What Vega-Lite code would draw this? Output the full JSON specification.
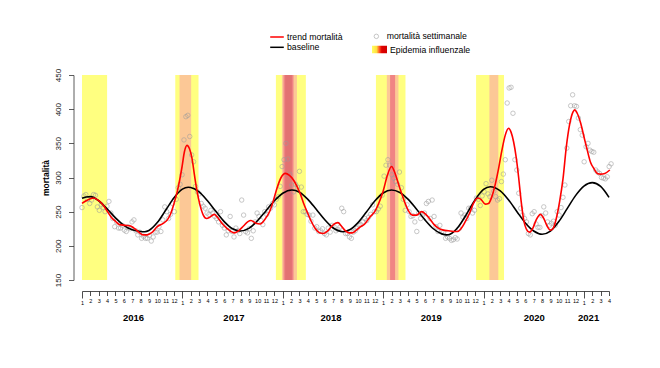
{
  "$schema": "https://vega.github.io/schema/vega-lite/v6.json",
  "width": 527,
  "height": 205,
  "autosize": "none",
  "padding": {"left": 82, "top": 75, "right": 51, "bottom": 88},
  "background": "white",
  "config": {"font": "Liberation Sans", "view": {"stroke": null}, "axis": {"grid": false}},
  "datasets": {
    "bande": [
      {"a": 0, "b": 3, "liv": "g"},
      {"a": 11.15, "b": 13.93, "liv": "g"},
      {"a": 23.18, "b": 26.76, "liv": "g"},
      {"a": 35.14, "b": 38.67, "liv": "g"},
      {"a": 47.11, "b": 50.45, "liv": "g"},
      {"a": 11.66, "b": 13.05, "liv": "a"},
      {"a": 23.9, "b": 25.69, "liv": "a"},
      {"a": 36.44, "b": 37.83, "liv": "a"},
      {"a": 48.7, "b": 49.77, "liv": "a"},
      {"a": 24.09, "b": 25.28, "liv": "r"},
      {"a": 36.83, "b": 37.43, "liv": "r"},
      {"a": 24.29, "b": 25.09, "liv": "s"}
    ],
    "obs": [
      {"m":0,"v":256},{"m":0.23,"v":273},{"m":0.46,"v":275},{"m":0.69,"v":268},{"m":0.92,"v":262},{"m":1.15,"v":267},{"m":1.38,"v":275},{"m":1.61,"v":274},{"m":1.84,"v":257},{"m":2.07,"v":252},
      {"m":2.3,"v":260},{"m":2.53,"v":256},{"m":2.76,"v":250},{"m":2.99,"v":258},{"m":3.22,"v":265},{"m":3.45,"v":248},{"m":3.68,"v":240},{"m":3.91,"v":228},{"m":4.14,"v":235},{"m":4.37,"v":226},
      {"m":4.6,"v":226},{"m":4.83,"v":230},{"m":5.06,"v":223},{"m":5.29,"v":221},{"m":5.52,"v":228},{"m":5.75,"v":225},{"m":5.98,"v":235},{"m":6.21,"v":238},{"m":6.44,"v":222},{"m":6.67,"v":216},
      {"m":6.9,"v":220},{"m":7.13,"v":211},{"m":7.36,"v":214},{"m":7.59,"v":211},{"m":7.82,"v":211},{"m":8.05,"v":215},{"m":8.28,"v":207},{"m":8.51,"v":213},{"m":8.74,"v":220},{"m":8.97,"v":220},
      {"m":9.2,"v":228},{"m":9.43,"v":221},{"m":9.66,"v":238},{"m":9.89,"v":257},{"m":10.12,"v":250},{"m":10.35,"v":240},{"m":10.58,"v":246},{"m":10.81,"v":262},{"m":11.04,"v":250},{"m":11.27,"v":268},
      {"m":11.5,"v":285},{"m":11.73,"v":290},{"m":11.96,"v":304},{"m":12.19,"v":355},{"m":12.42,"v":389},{"m":12.65,"v":391},{"m":12.88,"v":360},{"m":13.11,"v":333},{"m":13.34,"v":323},{"m":13.57,"v":287},
      {"m":13.8,"v":279},{"m":14.03,"v":276},{"m":14.26,"v":262},{"m":14.49,"v":258},{"m":14.72,"v":255},{"m":14.95,"v":248},{"m":15.18,"v":246},{"m":15.41,"v":252},{"m":15.64,"v":248},{"m":15.87,"v":243},
      {"m":16.1,"v":240},{"m":16.33,"v":235},{"m":16.56,"v":250},{"m":16.79,"v":230},{"m":17.02,"v":226},{"m":17.25,"v":216},{"m":17.48,"v":222},{"m":17.71,"v":243},{"m":17.94,"v":221},{"m":18.17,"v":213},
      {"m":18.4,"v":226},{"m":18.63,"v":222},{"m":18.86,"v":218},{"m":19.09,"v":267},{"m":19.32,"v":245},{"m":19.55,"v":221},{"m":19.78,"v":219},{"m":20.01,"v":225},{"m":20.24,"v":211},{"m":20.47,"v":222},
      {"m":20.7,"v":235},{"m":20.93,"v":248},{"m":21.16,"v":243},{"m":21.39,"v":237},{"m":21.62,"v":231},{"m":21.85,"v":250},{"m":22.08,"v":246},{"m":22.31,"v":257},{"m":22.54,"v":255},{"m":22.77,"v":262},
      {"m":23,"v":260},{"m":23.23,"v":268},{"m":23.46,"v":272},{"m":23.69,"v":287},{"m":23.92,"v":316},{"m":24.15,"v":326},{"m":24.38,"v":350},{"m":24.61,"v":327},{"m":24.84,"v":305},{"m":25.07,"v":289},
      {"m":25.3,"v":279},{"m":25.53,"v":290},{"m":25.76,"v":286},{"m":25.99,"v":309},{"m":26.22,"v":286},{"m":26.45,"v":250},{"m":26.68,"v":250},{"m":26.91,"v":246},{"m":27.14,"v":245},{"m":27.37,"v":236},
      {"m":27.6,"v":245},{"m":27.83,"v":226},{"m":28.06,"v":228},{"m":28.29,"v":221},{"m":28.52,"v":222},{"m":28.75,"v":225},{"m":28.98,"v":218},{"m":29.21,"v":216},{"m":29.44,"v":226},{"m":29.67,"v":220},
      {"m":29.9,"v":230},{"m":30.13,"v":228},{"m":30.36,"v":222},{"m":30.59,"v":224},{"m":30.82,"v":227},{"m":31.05,"v":255},{"m":31.28,"v":250},{"m":31.51,"v":218},{"m":31.74,"v":218},{"m":31.97,"v":213},
      {"m":32.2,"v":211},{"m":32.43,"v":220},{"m":32.66,"v":222},{"m":32.89,"v":226},{"m":33.12,"v":230},{"m":33.35,"v":231},{"m":33.58,"v":235},{"m":33.81,"v":240},{"m":34.04,"v":237},{"m":34.27,"v":242},
      {"m":34.5,"v":246},{"m":34.73,"v":260},{"m":34.96,"v":250},{"m":35.19,"v":250},{"m":35.42,"v":254},{"m":35.65,"v":258},{"m":35.88,"v":274},{"m":36.11,"v":302},{"m":36.34,"v":318},{"m":36.57,"v":326},
      {"m":36.8,"v":318},{"m":37.03,"v":304},{"m":37.26,"v":299},{"m":37.49,"v":294},{"m":37.72,"v":290},{"m":37.95,"v":308},{"m":38.18,"v":285},{"m":38.41,"v":268},{"m":38.64,"v":252},{"m":38.87,"v":260},
      {"m":39.1,"v":250},{"m":39.33,"v":243},{"m":39.56,"v":244},{"m":39.79,"v":235},{"m":40.02,"v":221},{"m":40.25,"v":248},{"m":40.48,"v":240},{"m":40.71,"v":245},{"m":40.94,"v":248},{"m":41.17,"v":262},
      {"m":41.4,"v":265},{"m":41.63,"v":240},{"m":41.86,"v":267},{"m":42.09,"v":243},{"m":42.32,"v":228},{"m":42.55,"v":221},{"m":42.78,"v":230},{"m":43.01,"v":221},{"m":43.24,"v":220},{"m":43.47,"v":211},
      {"m":43.7,"v":213},{"m":43.93,"v":211},{"m":44.16,"v":208},{"m":44.39,"v":209},{"m":44.62,"v":212},{"m":44.85,"v":210},{"m":45.08,"v":225},{"m":45.31,"v":248},{"m":45.54,"v":242},{"m":45.77,"v":245},
      {"m":46,"v":240},{"m":46.23,"v":255},{"m":46.46,"v":255},{"m":46.69,"v":248},{"m":46.92,"v":252},{"m":47.15,"v":270},{"m":47.38,"v":268},{"m":47.61,"v":259},{"m":47.84,"v":273},{"m":48.07,"v":279},
      {"m":48.3,"v":291},{"m":48.53,"v":276},{"m":48.76,"v":272},{"m":48.99,"v":296},{"m":49.22,"v":280},{"m":49.45,"v":272},{"m":49.68,"v":267},{"m":49.91,"v":269},{"m":50.14,"v":294},{"m":50.37,"v":305},
      {"m":50.6,"v":326},{"m":50.83,"v":409},{"m":51.06,"v":431},{"m":51.29,"v":432},{"m":51.52,"v":394},{"m":51.75,"v":326},{"m":51.98,"v":311},{"m":52.21,"v":277},{"m":52.44,"v":255},{"m":52.67,"v":245},
      {"m":52.9,"v":240},{"m":53.13,"v":235},{"m":53.36,"v":218},{"m":53.59,"v":216},{"m":53.82,"v":247},{"m":54.05,"v":250},{"m":54.28,"v":232},{"m":54.51,"v":227},{"m":54.74,"v":227},{"m":54.97,"v":244},
      {"m":55.2,"v":257},{"m":55.43,"v":248},{"m":55.66,"v":235},{"m":55.89,"v":230},{"m":56.12,"v":233},{"m":56.35,"v":236},{"m":56.58,"v":230},{"m":56.81,"v":250},{"m":57.04,"v":245},{"m":57.27,"v":256},
      {"m":57.5,"v":271},{"m":57.73,"v":289},{"m":57.96,"v":343},{"m":58.19,"v":382},{"m":58.42,"v":405},{"m":58.65,"v":421},{"m":58.88,"v":405},{"m":59.11,"v":404},{"m":59.34,"v":387},{"m":59.57,"v":370},
      {"m":59.8,"v":362},{"m":60.03,"v":323},{"m":60.26,"v":345},{"m":60.49,"v":350},{"m":60.72,"v":340},{"m":60.95,"v":338},{"m":61.18,"v":337},{"m":61.41,"v":311},{"m":61.64,"v":308},{"m":61.87,"v":306},
      {"m":62.1,"v":300},{"m":62.33,"v":299},{"m":62.56,"v":298},{"m":62.79,"v":301},{"m":63.02,"v":316},{"m":63.25,"v":320}
    ],
    "linee": [
      {"serie":"baseline","m":0,"v":269.5},{"serie":"baseline","m":0.5,"v":271.5},{"serie":"baseline","m":1,"v":272},{"serie":"baseline","m":2,"v":266},{"serie":"baseline","m":3,"v":254},{"serie":"baseline","m":4,"v":241},{"serie":"baseline","m":5,"v":230},{"serie":"baseline","m":6,"v":223.5},{"serie":"baseline","m":7,"v":221},{"serie":"baseline","m":7.5,"v":220.7},
      {"serie":"baseline","m":8,"v":222.5},{"serie":"baseline","m":9,"v":234},{"serie":"baseline","m":10,"v":252},{"serie":"baseline","m":11,"v":270.5},{"serie":"baseline","m":12,"v":283},{"serie":"baseline","m":12.7,"v":285.7},{"serie":"baseline","m":13,"v":285.3},{"serie":"baseline","m":14,"v":279},{"serie":"baseline","m":15,"v":266},{"serie":"baseline","m":16,"v":250.5},
      {"serie":"baseline","m":17,"v":235.5},{"serie":"baseline","m":18,"v":225},{"serie":"baseline","m":18.9,"v":221.7},{"serie":"baseline","m":20,"v":226},{"serie":"baseline","m":21,"v":237},{"serie":"baseline","m":22,"v":251.5},{"serie":"baseline","m":23,"v":266},{"serie":"baseline","m":24,"v":277},{"serie":"baseline","m":25.1,"v":281.7},{"serie":"baseline","m":26,"v":278.5},
      {"serie":"baseline","m":27,"v":268},{"serie":"baseline","m":28,"v":253.5},{"serie":"baseline","m":29,"v":238.5},{"serie":"baseline","m":30,"v":226.5},{"serie":"baseline","m":31.2,"v":220.7},{"serie":"baseline","m":32,"v":223.5},{"serie":"baseline","m":33,"v":234},{"serie":"baseline","m":34,"v":249.5},{"serie":"baseline","m":35,"v":265.5},{"serie":"baseline","m":36,"v":277.3},
      {"serie":"baseline","m":37,"v":281.7},{"serie":"baseline","m":38,"v":278},{"serie":"baseline","m":39,"v":268},{"serie":"baseline","m":40,"v":253.5},{"serie":"baseline","m":41,"v":238},{"serie":"baseline","m":42,"v":225},{"serie":"baseline","m":43,"v":217.5},{"serie":"baseline","m":43.6,"v":216},{"serie":"baseline","m":44,"v":217},{"serie":"baseline","m":45,"v":228},
      {"serie":"baseline","m":46,"v":247},{"serie":"baseline","m":47,"v":267.5},{"serie":"baseline","m":48,"v":282.5},{"serie":"baseline","m":48.8,"v":286.5},{"serie":"baseline","m":50,"v":280.3},{"serie":"baseline","m":51,"v":267},{"serie":"baseline","m":52,"v":250},{"serie":"baseline","m":53,"v":233.5},{"serie":"baseline","m":54,"v":221.7},{"serie":"baseline","m":55,"v":217},
      {"serie":"baseline","m":56,"v":221.6},{"serie":"baseline","m":57,"v":235.5},{"serie":"baseline","m":58,"v":254.5},{"serie":"baseline","m":59,"v":273.5},{"serie":"baseline","m":60,"v":287.4},{"serie":"baseline","m":61,"v":292.5},{"serie":"baseline","m":62,"v":287},{"serie":"baseline","m":63,"v":271},
      {"serie":"trend mortalità","m":0,"v":262},{"serie":"trend mortalità","m":0.5,"v":266},{"serie":"trend mortalità","m":1,"v":269},{"serie":"trend mortalità","m":1.4,"v":270},{"serie":"trend mortalità","m":2,"v":266},{"serie":"trend mortalità","m":2.5,"v":260},{"serie":"trend mortalità","m":3,"v":251},{"serie":"trend mortalità","m":3.5,"v":242},{"serie":"trend mortalità","m":4,"v":236},{"serie":"trend mortalità","m":4.5,"v":231},
      {"serie":"trend mortalità","m":5.2,"v":230},{"serie":"trend mortalità","m":5.8,"v":229},{"serie":"trend mortalità","m":6.2,"v":226},{"serie":"trend mortalità","m":6.8,"v":220},{"serie":"trend mortalità","m":7.3,"v":216},{"serie":"trend mortalità","m":7.8,"v":216},{"serie":"trend mortalità","m":8.3,"v":219},{"serie":"trend mortalità","m":9,"v":228},{"serie":"trend mortalità","m":9.7,"v":233},{"serie":"trend mortalità","m":10.2,"v":238},
      {"serie":"trend mortalità","m":10.6,"v":247},{"serie":"trend mortalità","m":11,"v":262},{"serie":"trend mortalità","m":11.4,"v":280},{"serie":"trend mortalità","m":11.95,"v":315},{"serie":"trend mortalità","m":12.25,"v":338},{"serie":"trend mortalità","m":12.55,"v":347},{"serie":"trend mortalità","m":12.85,"v":342},{"serie":"trend mortalità","m":13.15,"v":328},{"serie":"trend mortalità","m":13.45,"v":303},{"serie":"trend mortalità","m":13.75,"v":280},
      {"serie":"trend mortalità","m":14.1,"v":260},{"serie":"trend mortalità","m":14.5,"v":245},{"serie":"trend mortalità","m":14.9,"v":240},{"serie":"trend mortalità","m":15.3,"v":242},{"serie":"trend mortalità","m":15.8,"v":246},{"serie":"trend mortalità","m":16.3,"v":240},{"serie":"trend mortalità","m":16.8,"v":232},{"serie":"trend mortalità","m":17.3,"v":226},{"serie":"trend mortalità","m":17.8,"v":221},{"serie":"trend mortalità","m":18.2,"v":219},
      {"serie":"trend mortalità","m":18.7,"v":222},{"serie":"trend mortalità","m":19.3,"v":229},{"serie":"trend mortalità","m":19.8,"v":235},{"serie":"trend mortalità","m":20.2,"v":237},{"serie":"trend mortalità","m":20.8,"v":233},{"serie":"trend mortalità","m":21.3,"v":232},{"serie":"trend mortalità","m":21.7,"v":236},{"serie":"trend mortalità","m":22.1,"v":243},{"serie":"trend mortalità","m":22.5,"v":252},{"serie":"trend mortalità","m":22.9,"v":267},
      {"serie":"trend mortalità","m":23.3,"v":284},{"serie":"trend mortalità","m":23.8,"v":300},{"serie":"trend mortalità","m":24.3,"v":306},{"serie":"trend mortalità","m":24.8,"v":303},{"serie":"trend mortalità","m":25.3,"v":296},{"serie":"trend mortalità","m":25.7,"v":287},{"serie":"trend mortalità","m":26.1,"v":276},{"serie":"trend mortalità","m":26.5,"v":262},{"serie":"trend mortalità","m":26.9,"v":250},{"serie":"trend mortalità","m":27.4,"v":236},
      {"serie":"trend mortalità","m":27.9,"v":225},{"serie":"trend mortalità","m":28.4,"v":219},{"serie":"trend mortalità","m":28.8,"v":218},{"serie":"trend mortalità","m":29.3,"v":221},{"serie":"trend mortalità","m":29.8,"v":228},{"serie":"trend mortalità","m":30.3,"v":233},{"serie":"trend mortalità","m":30.6,"v":234},{"serie":"trend mortalità","m":31,"v":229},{"serie":"trend mortalità","m":31.4,"v":223},{"serie":"trend mortalità","m":31.9,"v":219},
      {"serie":"trend mortalità","m":32.3,"v":219},{"serie":"trend mortalità","m":32.8,"v":223},{"serie":"trend mortalità","m":33.3,"v":228},{"serie":"trend mortalità","m":33.8,"v":232},{"serie":"trend mortalità","m":34.4,"v":242},{"serie":"trend mortalità","m":35,"v":250},{"serie":"trend mortalità","m":35.5,"v":263},{"serie":"trend mortalità","m":36,"v":280},{"serie":"trend mortalità","m":36.5,"v":303},{"serie":"trend mortalità","m":37,"v":316},
      {"serie":"trend mortalità","m":37.4,"v":307},{"serie":"trend mortalità","m":37.8,"v":292},{"serie":"trend mortalità","m":38.2,"v":277},{"serie":"trend mortalità","m":38.6,"v":263},{"serie":"trend mortalità","m":39,"v":252},{"serie":"trend mortalità","m":39.5,"v":245},{"serie":"trend mortalità","m":40,"v":245},{"serie":"trend mortalità","m":40.6,"v":250},{"serie":"trend mortalità","m":41.1,"v":246},{"serie":"trend mortalità","m":41.6,"v":239},
      {"serie":"trend mortalità","m":42.1,"v":231},{"serie":"trend mortalità","m":42.6,"v":226},{"serie":"trend mortalità","m":43.2,"v":223},{"serie":"trend mortalità","m":43.8,"v":222},{"serie":"trend mortalità","m":44.4,"v":221},{"serie":"trend mortalità","m":44.9,"v":221},{"serie":"trend mortalità","m":45.3,"v":225},{"serie":"trend mortalità","m":45.8,"v":235},{"serie":"trend mortalità","m":46.3,"v":247},{"serie":"trend mortalità","m":46.8,"v":262},
      {"serie":"trend mortalità","m":47.3,"v":270},{"serie":"trend mortalità","m":47.7,"v":268},{"serie":"trend mortalità","m":48.2,"v":261},{"serie":"trend mortalità","m":48.6,"v":262},{"serie":"trend mortalità","m":49,"v":272},{"serie":"trend mortalità","m":49.4,"v":290},{"serie":"trend mortalità","m":49.8,"v":313},{"serie":"trend mortalità","m":50.2,"v":340},{"serie":"trend mortalità","m":50.6,"v":362},{"serie":"trend mortalità","m":51,"v":372},
      {"serie":"trend mortalità","m":51.3,"v":366},{"serie":"trend mortalità","m":51.6,"v":352},{"serie":"trend mortalità","m":51.9,"v":330},{"serie":"trend mortalità","m":52.2,"v":300},{"serie":"trend mortalità","m":52.5,"v":265},{"serie":"trend mortalità","m":52.8,"v":238},{"serie":"trend mortalità","m":53.1,"v":225},{"serie":"trend mortalità","m":53.5,"v":220},{"serie":"trend mortalità","m":53.9,"v":226},{"serie":"trend mortalità","m":54.3,"v":238},
      {"serie":"trend mortalità","m":54.8,"v":246},{"serie":"trend mortalità","m":55.2,"v":240},{"serie":"trend mortalità","m":55.6,"v":229},{"serie":"trend mortalità","m":56,"v":223},{"serie":"trend mortalità","m":56.3,"v":225},{"serie":"trend mortalità","m":56.7,"v":240},{"serie":"trend mortalità","m":57.1,"v":265},{"serie":"trend mortalità","m":57.5,"v":298},{"serie":"trend mortalità","m":57.9,"v":345},{"serie":"trend mortalità","m":58.3,"v":378},
      {"serie":"trend mortalità","m":58.7,"v":396},{"serie":"trend mortalità","m":58.9,"v":399},{"serie":"trend mortalità","m":59.2,"v":394},{"serie":"trend mortalità","m":59.6,"v":380},{"serie":"trend mortalità","m":60,"v":360},{"serie":"trend mortalità","m":60.4,"v":340},{"serie":"trend mortalità","m":60.8,"v":322},{"serie":"trend mortalità","m":61.2,"v":313},{"serie":"trend mortalità","m":61.6,"v":306},{"serie":"trend mortalità","m":62,"v":305},
      {"serie":"trend mortalità","m":62.5,"v":306},{"serie":"trend mortalità","m":63.1,"v":311}
    ]
  },
  "layer": [
    {
      "data": {"name": "bande"},
      "mark": {"type": "rect", "strokeWidth": 0},
      "encoding": {
        "x": {"field": "a", "type": "quantitative", "scale": {"domain": [0, 63], "nice": false, "zero": false},
          "axis": {"orient": "bottom", "offset": 11, "title": null,
            "values": [0,1,2,3,4,5,6,7,8,9,10,11,12,13,14,15,16,17,18,19,20,21,22,23,24,25,26,27,28,29,30,31,32,33,34,35,36,37,38,39,40,41,42,43,44,45,46,47,48,49,50,51,52,53,54,55,56,57,58,59,60,61,62,63],
            "labelExpr": "(datum.value % 12) + 1", "labelFontSize": 5.5, "labelPadding": 2.5, "labelOverlap": false, "labelFlush": false, "labelBound": false, "labelAngle": 0, "labelColor": "#000",
            "tickSize": {"condition": {"test": "datum.value % 12 === 0", "value": 7}, "value": 4.5},
            "tickColor": "#222", "domainColor": "#222", "tickWidth": 0.8, "domainWidth": 0.8}},
        "x2": {"field": "b"},
        "y": {"datum": 150, "type": "quantitative", "scale": {"domain": [150, 450], "nice": false, "zero": false}, "axis": null},
        "y2": {"datum": 450},
        "fill": {"field": "liv", "type": "nominal",
          "scale": {"domain": ["g", "a", "r", "s"], "range": ["#FFFF80", "#FCC896", "#F08484", "#E27272"]},
          "legend": null},
        "opacity": {"datum": "Epidemia influenzale", "type": "nominal", "scale": {"range": [1]},
          "legend": {"orient": "none", "legendX": 290, "legendY": -33, "title": null,
            "labelFontSize": 8.7, "labelColor": "#000", "labelOffset": 3,
            "symbolType": "M-1,-0.5H1V0.5H-1Z", "symbolSize": 225, "symbolStrokeWidth": 0, "symbolStrokeColor": "transparent",
            "symbolFillColor": {"value": {"gradient": "linear", "x1": 0, "y1": 0, "x2": 1, "y2": 0,
              "stops": [{"offset": 0, "color": "#FFFF60"}, {"offset": 0.3, "color": "#FFE040"}, {"offset": 0.5, "color": "#FF5020"}, {"offset": 0.65, "color": "#E00000"}, {"offset": 1, "color": "#D00000"}]}}}}
      }
    },
    {
      "data": {"name": "obs"},
      "mark": {"type": "point", "filled": false, "stroke": "#9C9C9C", "strokeWidth": 0.8, "size": 20},
      "encoding": {
        "x": {"field": "m", "type": "quantitative", "scale": {"domain": [0, 63], "nice": false, "zero": false},
          "axis": {"orient": "bottom", "offset": 11, "title": null, "values": [6.1, 18.1, 29.7, 41.7, 54, 60.5],
            "labelExpr": "floor(datum.value / 12) + 2016", "domain": false, "ticks": false, "tickSize": 0,
            "labelFontSize": 9.5, "labelFontWeight": "bold", "labelPadding": 21, "labelColor": "#000", "labelOverlap": false, "labelFlush": false}},
        "y": {"field": "v", "type": "quantitative", "scale": {"domain": [150, 450], "nice": false, "zero": false},
          "axis": {"orient": "left", "offset": 8.5, "values": [150, 200, 250, 300, 350, 400, 450], "title": "mortalità",
            "labelAngle": -90, "labelAlign": "center", "labelBaseline": "middle", "labelFontSize": 8, "labelColor": "#222",
            "labelPadding": 10, "tickSize": 5, "tickColor": "#333", "domainColor": "#333", "tickWidth": 0.8, "domainWidth": 0.8,
            "titleFontSize": 8.5, "titleFontWeight": "bold", "titleColor": "#000", "titlePadding": 4}},
        "shape": {"datum": "mortalità settimanale", "type": "nominal", "scale": {"range": ["circle"]},
          "legend": {"orient": "none", "legendX": 290, "legendY": -43, "title": null, "labelFontSize": 8.7, "labelColor": "#000",
            "symbolSize": 20, "symbolStrokeColor": "#9C9C9C", "symbolFillColor": "transparent", "symbolStrokeWidth": 0.8, "labelOffset": 6}}
      }
    },
    {
      "data": {"name": "linee"},
      "mark": {"type": "line", "interpolate": "monotone", "strokeWidth": 1.6},
      "encoding": {
        "x": {"field": "m", "type": "quantitative", "scale": {"domain": [0, 63], "nice": false, "zero": false}, "axis": null},
        "y": {"field": "v", "type": "quantitative", "scale": {"domain": [150, 450], "nice": false, "zero": false}, "axis": null},
        "stroke": {"field": "serie", "type": "nominal",
          "scale": {"domain": ["trend mortalità", "baseline"], "range": ["#FF0000", "#000000"]},
          "legend": {"orient": "none", "legendX": 190, "legendY": -43, "title": null, "labelFontSize": 8.7, "labelColor": "#000",
            "symbolType": "M-1.7,0H1.7", "symbolSize": 64, "symbolStrokeWidth": 1.5, "labelOffset": 5, "rowPadding": 0.3}}
      }
    }
  ],
  "resolve": {"scale": {"x": "independent"}, "axis": {"y": "independent"}}
}
